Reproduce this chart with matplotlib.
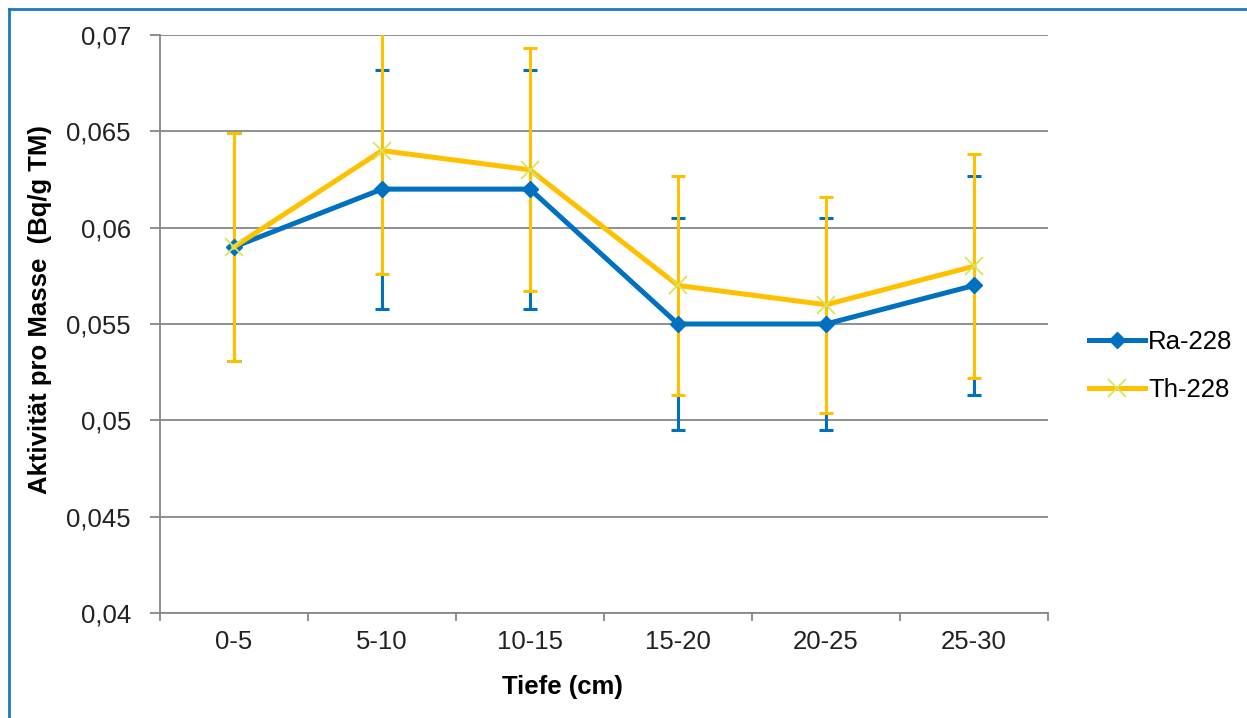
import matplotlib
matplotlib.use("Agg")
import matplotlib.pyplot as plt
from matplotlib.lines import Line2D
from matplotlib.ticker import FixedLocator

# depth classes and activities (Bq/g dry mass)
depths = ["0-5", "5-10", "10-15", "15-20", "20-25", "25-30"]
ra228 = [0.059, 0.062, 0.062, 0.055, 0.055, 0.057]
th228 = [0.059, 0.064, 0.063, 0.057, 0.056, 0.058]
ra228_err = [0.0059, 0.0062, 0.0062, 0.0055, 0.0055, 0.0057]
th228_err = [0.0059, 0.0064, 0.0063, 0.0057, 0.0056, 0.0058]
y_ticks = [0.04, 0.045, 0.05, 0.055, 0.06, 0.065, 0.07]
y_tick_labels = ["0,04", "0,045", "0,05", "0,055", "0,06", "0,065", "0,07"]

plt.rcParams['font.family'] = ['Liberation Sans', 'DejaVu Sans']

blue = "#0070C0"
yellow = "#FFC000"
grid_col = "#878787"

fig = plt.figure(figsize=(12.47, 7.18), dpi=100)
ax = fig.add_axes([160 / 1247, 105 / 718, 888 / 1247, 578 / 718])

x = list(range(len(depths)))

# error bars first, then the lines on top
ax.errorbar(x, ra228, yerr=ra228_err, fmt='none', ecolor=blue, elinewidth=2.2,
            capsize=5, capthick=2.2, zorder=2)
ax.errorbar(x, th228, yerr=th228_err, fmt='none', ecolor=yellow, elinewidth=2.2,
            capsize=5, capthick=2.2, zorder=2.5)
ax.plot(x, ra228, color=blue, lw=3.6, marker='D', markersize=8.5,
        markerfacecolor=blue, markeredgecolor=blue, label="Ra-228", zorder=3)
ax.plot(x, th228, color=yellow, lw=3.6, marker='x', markersize=13,
        markeredgecolor="#D8E45C", markeredgewidth=1.3, label="Th-228", zorder=3.5)

ax.set_xlim(-0.5, len(depths) - 0.5)
ax.set_ylim(0.04, 0.07)
ax.set_xticks(x)
ax.set_xticklabels(depths)
ax.xaxis.set_minor_locator(FixedLocator([i - 0.5 for i in range(len(depths) + 1)]))
ax.tick_params(axis='x', which='major', length=0, pad=12, labelsize=18.5, labelcolor="#222222")
ax.tick_params(axis='x', which='minor', length=6, width=1.3, color=grid_col, direction='out')
ax.set_yticks(y_ticks)
ax.set_yticklabels(y_tick_labels)
ax.tick_params(axis='y', length=7, width=1.3, color=grid_col, pad=14,
               labelsize=18.5, labelcolor="#222222")

ax.grid(axis='y', color=grid_col, lw=1.3)
ax.set_axisbelow(True)
for side in ['top', 'right']:
    ax.spines[side].set_visible(False)
for side in ['left', 'bottom']:
    ax.spines[side].set_color(grid_col)
    ax.spines[side].set_linewidth(1.3)

ax.set_xlabel("Tiefe (cm)", fontsize=18.5, fontweight='bold')
ax.xaxis.set_label_coords((562 - 160) / 888, -(675 - 613) / 578)
ax.set_ylabel("Aktivität pro Masse  (Bq/g TM)", fontsize=18.5, fontweight='bold')
ax.yaxis.set_label_coords((52 - 160) / 888, (613 - 310) / 578)

leg = ax.legend(loc='center left', bbox_to_anchor=(1.02, 0.427), frameon=False,
                fontsize=18.5, handlelength=2.2, handletextpad=0.1, labelspacing=0.95)

# blue chart border (only top and left visible)
fig.add_artist(Line2D([8.5 / 1247, 8.5 / 1247], [0, 1 - 8.5 / 718], color="#1B78C6", lw=2,
                      transform=fig.transFigure))
fig.add_artist(Line2D([8.5 / 1247, 1], [1 - 8.5 / 718, 1 - 8.5 / 718], color="#1B78C6", lw=2,
                      transform=fig.transFigure))

fig.savefig("out.png", dpi=100)
